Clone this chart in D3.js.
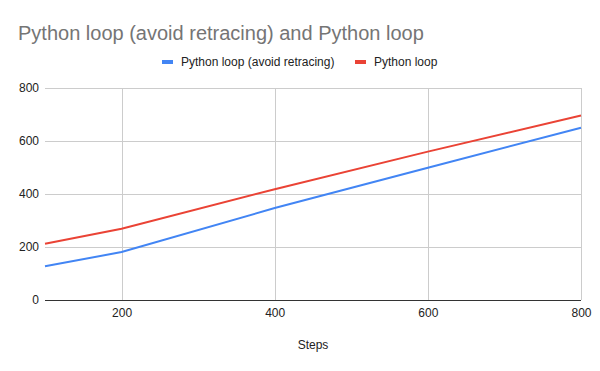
<!DOCTYPE html>
<html><head><meta charset="utf-8">
<script src="https://cdn.jsdelivr.net/npm/d3@7"></script>
<style>body{margin:0;background:#fff}svg{display:block;font-family:Arial,"Liberation Sans",sans-serif}</style>
</head><body><svg id="c" width="600" height="371"></svg>
<script>
const steps = [100, 200, 400, 600, 800];
const avoidRetracing = [127, 181, 347, 499, 650];
const pythonLoop = [212, 269, 418, 560, 696];
const xTicks = [200, 400, 600, 800];
const yTicks = [0, 200, 400, 600, 800];
const seriesNames = ["Python loop (avoid retracing)", "Python loop"];
const colors = ["#4285f4", "#ea4335"];

const svg = d3.select("#c");
svg.append("rect").attr("width",600).attr("height",371).attr("fill","#fff");
const x = d3.scaleLinear().domain([100, 800]).range([45, 581]);
const y = d3.scaleLinear().domain([0, 800]).range([300, 88]);

svg.append("text").attr("x",18).attr("y",40).attr("font-size",20).attr("fill","#757575").text("Python loop (avoid retracing) and Python loop");

// grid
const g = svg.append("g");
g.selectAll(".hy").data(yTicks.filter(d=>d>0)).join("line")
  .attr("x1",x(100)).attr("x2",x(800)).attr("y1",d=>Math.round(y(d))+0.5).attr("y2",d=>Math.round(y(d))+0.5)
  .attr("stroke","#cccccc");
g.selectAll(".vx").data(xTicks).join("line")
  .attr("y1",y(0)).attr("y2",y(800)).attr("x1",d=>Math.round(x(d))+0.5).attr("x2",d=>Math.round(x(d))+0.5)
  .attr("stroke","#cccccc");

// axes labels
const yAxis = d3.axisLeft(y).tickValues(yTicks).tickSize(0).tickPadding(6);
const ya = svg.append("g").attr("transform","translate(45,0)").call(yAxis);
ya.select(".domain").remove();
ya.selectAll("text").attr("font-size",12).attr("fill","#222").attr("font-family","Arial,'Liberation Sans',sans-serif");

const xAxis = d3.axisBottom(x).tickValues(xTicks).tickSize(0).tickPadding(8);
const xa = svg.append("g").attr("transform","translate(0,300)").call(xAxis);
xa.select(".domain").remove();
xa.selectAll("text").attr("font-size",12).attr("fill","#222").attr("font-family","Arial,'Liberation Sans',sans-serif");

// series
const line = d3.line().x((d,i)=>x(steps[i])).y(d=>y(d));
[avoidRetracing, pythonLoop].forEach((s,k)=>{
  svg.append("path").datum(s).attr("d",line).attr("fill","none").attr("stroke",colors[k]).attr("stroke-width",2);
});

// baseline
svg.append("line").attr("x1",x(100)).attr("x2",x(800)).attr("y1",300.5).attr("y2",300.5).attr("stroke","#333");

svg.append("text").attr("x",313).attr("y",349).attr("text-anchor","middle").attr("font-size",12).attr("fill","#222").text("Steps");

// legend
const lx = [162, 355];
seriesNames.forEach((n,k)=>{
  svg.append("rect").attr("x",lx[k]).attr("y",60).attr("width",11).attr("height",4).attr("fill",colors[k]);
  svg.append("text").attr("x",lx[k]+19).attr("y",66).attr("font-size",12).attr("fill","#222").text(n);
});
</script></body></html>
